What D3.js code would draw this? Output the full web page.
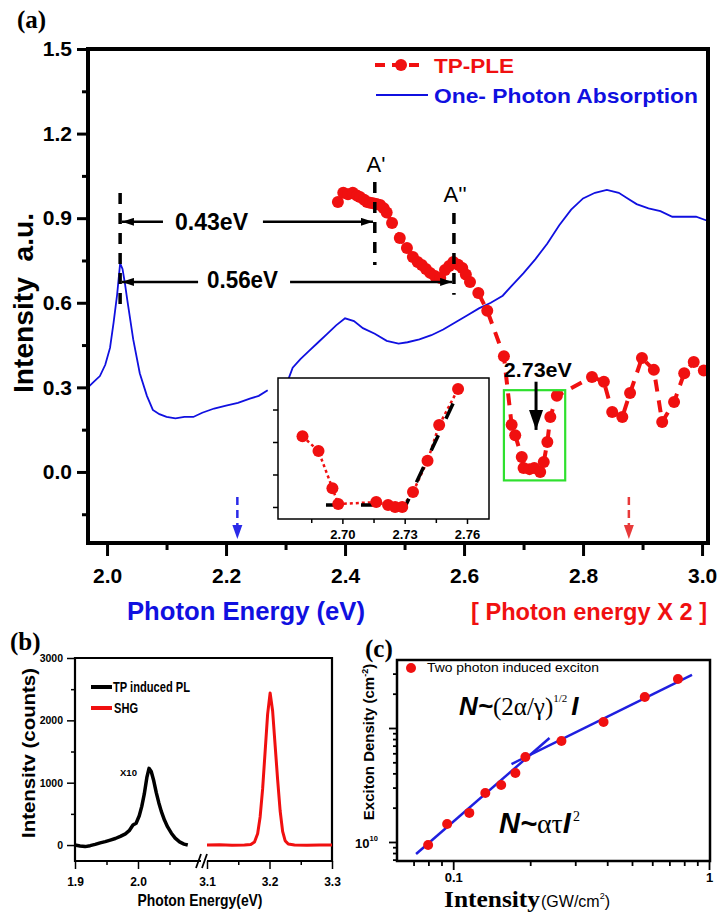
<!DOCTYPE html>
<html>
<head>
<meta charset="utf-8">
<script src="https://cdn.jsdelivr.net/npm/d3@7"></script>
<style>
  body { margin: 0; background: #fff; }
  svg { display: block; }
</style>
</head>
<body>
<script>
// ---------- (a) one-photon absorption (eV, a.u.), null = gap in trace
var absE = [1.968,1.978,1.988,1.997,2.005,2.011,2.017,2.022,2.026,2.030,2.034,2.044,2.055,2.067,2.077,2.088,2.100,2.115,2.130,2.145,2.160,2.180,2.200,2.220,2.240,2.255,2.270,2.287,
            2.305,2.312,2.325,2.340,2.355,2.370,2.385,2.400,2.415,2.430,2.450,2.470,2.490,2.505,2.525,2.545,2.565,2.585,2.605,2.625,2.645,2.665,2.680,2.700,2.720,2.740,2.760,2.780,2.800,2.820,2.840,2.860,2.875,2.890,2.910,2.930,2.950,2.970,2.990,3.010];
var absI = [0.30,0.32,0.34,0.38,0.44,0.53,0.63,0.74,0.72,0.67,0.61,0.47,0.35,0.27,0.22,0.205,0.195,0.19,0.195,0.195,0.21,0.225,0.235,0.245,0.26,0.27,0.29,null,
            0.33,0.37,0.40,0.43,0.46,0.49,0.52,0.545,0.535,0.51,0.49,0.465,0.455,0.46,0.47,0.485,0.505,0.53,0.555,0.58,0.60,0.625,0.66,0.705,0.755,0.81,0.875,0.93,0.97,0.99,1.0,0.99,0.97,0.95,0.935,0.925,0.905,0.905,0.905,0.89];

// ---------- (a) TP-PLE (photon energy x2, a.u.)
var pleE = [2.388,2.397,2.405,2.413,2.420,2.425,2.432,2.437,2.442,2.447,2.453,2.459,2.465,2.470,2.479,2.492,2.504,2.514,2.522,2.529,2.536,2.543,2.551,2.560,2.568,2.575,2.582,2.590,2.597,2.603,2.610,2.624,2.639,
            2.667,2.680,2.686,2.697,2.700,2.710,2.718,2.728,2.734,2.740,2.745,2.756,2.815,2.835,2.849,2.866,2.879,2.899,2.919,2.933,2.953,2.970,2.986,3.003];
var pleI = [0.957,0.99,0.985,0.99,0.98,0.975,0.965,0.957,0.955,0.953,0.95,0.947,0.935,0.92,0.883,0.83,0.794,0.762,0.745,0.734,0.72,0.706,0.695,0.688,0.716,0.73,0.745,0.735,0.723,0.70,0.674,0.635,0.572,
            0.41,0.167,0.13,0.053,0.014,0.01,0.014,0.0,0.035,0.106,0.195,0.27,0.337,0.32,0.213,0.195,0.28,0.404,0.362,0.177,0.248,0.35,0.39,0.36];

// ---------- (a) inset, zoom of the 2.73 eV dip
var insE = [2.6808,2.6885,2.6952,2.698,2.7163,2.722,2.7254,2.7288,2.734,2.741,2.7466,2.7557];
var insI = [2.18,1.72,0.58,0.09,0.15,0.06,0.0,0.0,0.46,1.42,2.52,3.63];
var insFitE = [2.6921,2.7306,2.7552];
var insFitI = [0.06,0.06,3.45];

// ---------- (b) spectra
var plE = [1.900,1.908,1.916,1.924,1.932,1.940,1.948,1.956,1.964,1.972,1.980,1.986,1.992,1.997,2.002,2.006,2.010,2.014,2.0175,2.021,2.025,2.029,2.033,2.037,2.042,2.047,2.053,2.059,2.066,2.073,2.079];
var plC = [0,-15,-25,-10,10,35,55,80,105,140,180,230,320,350,470,620,820,1080,1230,1180,1030,840,680,540,400,290,190,110,50,15,0];
var shgE = [3.100,3.120,3.140,3.160,3.170,3.176,3.181,3.185,3.189,3.193,3.197,3.201,3.205,3.209,3.213,3.217,3.221,3.225,3.230,3.240,3.260,3.280,3.300];
var shgC = [0,5,-5,0,10,50,180,450,900,1500,2100,2440,2150,1600,1050,550,220,70,15,0,-5,0,0];

// ---------- (c) exciton density vs intensity
var excI = [0.0798,0.0947,0.1156,0.1335,0.154,0.175,0.1915,0.265,0.387,0.561,0.756];
var excN = [9.4e9,1.44e10,1.8e10,2.69e10,3.16e10,4.03e10,5.57e10,7.7e10,1.13e11,1.87e11,2.69e11];
var fitLowI = [0.0716,0.238],  fitLowN = [7.85e9,8.17e10];
var fitHighI = [0.169,0.858],  fitHighN = [4.83e10,2.92e11];

// ---------- ticks
var aTicksX = [2.0,2.2,2.4,2.6,2.8,3.0], aMinorX = [2.1,2.3,2.5,2.7,2.9];
var aTicksY = [0,0.3,0.6,0.9,1.2,1.5], aMinorY = [-0.15,0.15,0.45,0.75,1.05,1.35];
var insTicksX = [2.70,2.73,2.76], insMinorX = [2.685,2.715,2.745], insTicksY = [0,1,2,3];
var bTicksY = [0,1000,2000,3000], bMinorY = [500,1500,2500];
var bTicksL = [1.9,2.0], bMinorL = [1.95,2.05], bTicksR = [3.1,3.2,3.3], bMinorR = [3.15,3.25];
var cTicksX = [0.1,1], cMinorX = [0.07,0.08,0.09,0.2,0.3,0.4,0.5,0.6,0.7,0.8,0.9];
var cTicksY = [1e10,1e11], cMinorY = [7e9,8e9,9e9,2e10,3e10,4e10,5e10,6e10,7e10,8e10,9e10,2e11,3e11];

var SANS = "'Liberation Sans', Arial, sans-serif",
    SERIF = "'Liberation Serif', 'Times New Roman', serif",
    RED = "#f01010", BLUE = "#1010e0";

var svg = d3.select("body").append("svg")
    .attr("width", 724).attr("height", 921)
    .attr("font-family", SANS);

var defs = svg.append("defs");
defs.append("marker").attr("id", "ah")
    .attr("viewBox", "0 0 12 8").attr("refX", 12).attr("refY", 4)
    .attr("markerWidth", 12).attr("markerHeight", 8)
    .attr("markerUnits", "userSpaceOnUse").attr("orient", "auto")
  .append("path").attr("d", "M0,0L12,4L0,8Z").attr("fill", "#000");

function label(g, x, y, s, o) {
  var t = g.append("text").attr("x", x).attr("y", y).text(s)
      .attr("font-size", o.size)
      .attr("font-weight", o.weight || "bold")
      .attr("fill", o.fill || "#000")
      .attr("text-anchor", o.anchor || "start");
  if (o.family) t.attr("font-family", o.family);
  if (o.style) t.attr("font-style", o.style);
  if (o.len) t.attr("textLength", o.len).attr("lengthAdjust", "spacingAndGlyphs");
  if (o.rotate) t.attr("transform", "rotate(-90," + x + "," + y + ")");
  return t;
}

function styleAxis(sel, w, size) {
  sel.select(".domain").remove();
  sel.selectAll(".tick line").attr("stroke", "#000").attr("stroke-width", w);
  sel.selectAll(".tick text").attr("fill", "#000").attr("font-family", SANS)
     .attr("font-weight", "bold").attr("font-size", size || 10);
}

function zip(a, b) { return a.map(function(d, i) { return [d, b[i]]; }); }

// =================== panel (a) ===================
var xA = d3.scaleLinear().domain([1.968, 3.010]).range([88, 708]);
var yA = d3.scaleLinear().domain([-0.252, 1.5]).range([543, 49]);
var gA = svg.append("g");

label(gA, 17, 28, "(a)", {size: 25, family: SERIF});

gA.append("g").attr("transform", "translate(0,543)")
  .call(d3.axisBottom(xA).tickValues(aMinorX).tickSize(7).tickFormat(""))
  .call(styleAxis, 3);
gA.append("g").attr("transform", "translate(0,543)")
  .call(d3.axisBottom(xA).tickValues(aTicksX).tickSize(13).tickPadding(12).tickFormat(d3.format(".1f")))
  .call(styleAxis, 3, 21);
gA.append("g").attr("transform", "translate(88,0)")
  .call(d3.axisLeft(yA).tickValues(aMinorY).tickSize(6).tickFormat(""))
  .call(styleAxis, 3);
gA.append("g").attr("transform", "translate(88,0)")
  .call(d3.axisLeft(yA).tickValues(aTicksY).tickSize(11).tickPadding(5).tickFormat(d3.format(".1f")))
  .call(styleAxis, 3, 21);

// one-photon absorption
var absLine = d3.line().defined(function(d) { return d[1] != null; })
    .x(function(d) { return xA(d[0]); }).y(function(d) { return yA(d[1]); });
gA.append("path").datum(zip(absE, absI)).attr("d", absLine)
  .attr("fill", "none").attr("stroke", BLUE).attr("stroke-width", 1.8);

// TP-PLE
var pleData = zip(pleE, pleI);
gA.append("path").datum(pleData).attr("d", absLine)
  .attr("fill", "none").attr("stroke", RED).attr("stroke-width", 4)
  .attr("stroke-dasharray", "12,9");
gA.selectAll(".ple").data(pleData).enter().append("circle")
  .attr("class", "ple").attr("r", 6)
  .attr("cx", function(d) { return xA(d[0]); })
  .attr("cy", function(d) { return yA(d[1]); })
  .attr("fill", RED);

// dashed markers at 2.02, A', A''
function vdash(x, y0, y1) {
  gA.append("line").attr("x1", xA(x)).attr("x2", xA(x)).attr("y1", yA(y0)).attr("y2", yA(y1))
    .attr("stroke", "#000").attr("stroke-width", 3.5).attr("stroke-dasharray", "11,9");
}
vdash(2.022, 0.989, 0.574);
vdash(2.450, 1.028, 0.734);
vdash(2.583, 0.918, 0.628);
label(gA, xA(2.452), 172, "A'", {size: 22, weight: "normal", anchor: "middle"});
label(gA, xA(2.585), 202, "A''", {size: 22, weight: "normal", anchor: "middle"});

function arrow(x0, x1, y) {
  gA.append("line").attr("x1", xA(x0)).attr("x2", xA(x1)).attr("y1", yA(y)).attr("y2", yA(y))
    .attr("stroke", "#000").attr("stroke-width", 2.5).attr("marker-end", "url(#ah)");
}
arrow(2.094, 2.025, 0.887);
arrow(2.262, 2.447, 0.887);
label(gA, xA(2.1756), 230, "0.43eV", {size: 23, anchor: "middle", len: 73});
arrow(2.153, 2.025, 0.674);
arrow(2.3076, 2.580, 0.674);
label(gA, xA(2.2277), 288, "0.56eV", {size: 23, anchor: "middle", len: 71});

// green box + 2.73 eV
gA.append("rect").attr("x", xA(2.667)).attr("y", yA(0.29))
  .attr("width", xA(2.770) - xA(2.667)).attr("height", yA(-0.03) - yA(0.29))
  .attr("fill", "none").attr("stroke", "#2ee02e").attr("stroke-width", 2.2);
label(gA, xA(2.724), 377, "2.73eV", {size: 21, anchor: "middle", len: 68});
gA.append("line").attr("x1", xA(2.721)).attr("x2", xA(2.721)).attr("y1", yA(0.32)).attr("y2", yA(0.149))
  .attr("stroke", "#000").attr("stroke-width", 3);
gA.append("path")
  .attr("d", "M" + (xA(2.721) - 7) + "," + yA(0.22) + "L" + xA(2.721) + "," + yA(0.149) + "L" + (xA(2.721) + 7) + "," + yA(0.22) + "Z")
  .attr("fill", "#000");

// small dashed arrows under the traces
function downArrow(x, col) {
  gA.append("line").attr("x1", xA(x)).attr("x2", xA(x)).attr("y1", 497).attr("y2", 526)
    .attr("stroke", col).attr("stroke-width", 2.5).attr("stroke-dasharray", "8,5");
  gA.append("path")
    .attr("d", "M" + (xA(x) - 5) + ",525L" + xA(x) + ",539L" + (xA(x) + 5) + ",525Z")
    .attr("fill", col);
}
downArrow(2.219, "#2a2ae8");
downArrow(2.877, "#e83a3a");

// inset
var xI = d3.scaleLinear().domain([2.669, 2.7706]).range([278, 489]);
var yI = d3.scaleLinear().domain([-0.37, 3.97]).range([519, 378]);
var gI = gA.append("g");
gI.append("rect").attr("x", 278).attr("y", 378).attr("width", 211).attr("height", 141)
  .attr("fill", "#fff").attr("stroke", "#000").attr("stroke-width", 1.5);
gI.append("g").attr("transform", "translate(0,519)")
  .call(d3.axisBottom(xI).tickValues(insMinorX).tickSize(4).tickFormat(""))
  .call(styleAxis, 1.5);
gI.append("g").attr("transform", "translate(0,519)")
  .call(d3.axisBottom(xI).tickValues(insTicksX).tickSize(5).tickPadding(6).tickFormat(d3.format(".2f")))
  .call(styleAxis, 1.5, 13);
gI.append("g").attr("transform", "translate(278,0)")
  .call(d3.axisLeft(yI).tickValues(insTicksY).tickSize(5).tickFormat(""))
  .call(styleAxis, 1.5);
var insLine = d3.line().x(function(d) { return xI(d[0]); }).y(function(d) { return yI(d[1]); });
gI.append("path").datum(zip(insE, insI)).attr("d", insLine)
  .attr("fill", "none").attr("stroke", RED).attr("stroke-width", 2.5).attr("stroke-dasharray", "3,3");
gI.append("path").datum(zip(insFitE, insFitI)).attr("d", insLine)
  .attr("fill", "none").attr("stroke", "#000").attr("stroke-width", 3.5).attr("stroke-dasharray", "17,18");
gI.selectAll(".ins").data(zip(insE, insI)).enter().append("circle")
  .attr("class", "ins").attr("r", 6)
  .attr("cx", function(d) { return xI(d[0]); })
  .attr("cy", function(d) { return yI(d[1]); })
  .attr("fill", RED);

// frame on top
gA.append("rect").attr("x", 88).attr("y", 49).attr("width", 620).attr("height", 494)
  .attr("fill", "none").attr("stroke", "#000").attr("stroke-width", 4);

// legend
gA.append("line").attr("x1", 375).attr("x2", 424).attr("y1", 65).attr("y2", 65)
  .attr("stroke", RED).attr("stroke-width", 4).attr("stroke-dasharray", "10,7");
gA.append("circle").attr("cx", 401).attr("cy", 65).attr("r", 6).attr("fill", RED);
label(gA, 434, 73, "TP-PLE", {size: 21, fill: RED, len: 80});
gA.append("line").attr("x1", 376).attr("x2", 428).attr("y1", 95).attr("y2", 95)
  .attr("stroke", BLUE).attr("stroke-width", 2);
label(gA, 434, 103, "One- Photon Absorption", {size: 21, fill: BLUE, len: 264});

// axis titles
var yt = label(gA, 33, 303, "Intensity", {size: 28, anchor: "middle", rotate: true, len: 180});
yt.append("tspan").text("\u00a0\u00a0a.u.");
label(gA, 246, 620, "Photon Energy (eV)", {size: 25, fill: BLUE, anchor: "middle", len: 238});
label(gA, 589, 620, "[ Photon energy X 2 ]", {size: 23, fill: RED, anchor: "middle", len: 236});

// =================== panel (b) ===================
var gB = svg.append("g");
var xBL = d3.scaleLinear().domain([1.9, 2.1]).range([75, 201]);
var xBR = d3.scaleLinear().domain([3.1, 3.3]).range([207, 332]);
var yB = d3.scaleLinear().domain([-256, 3000]).range([861, 658]);

label(gB, 10, 650, "(b)", {size: 25, family: SERIF});

gB.append("g").attr("transform", "translate(75,0)")
  .call(d3.axisLeft(yB).tickValues(bMinorY).tickSize(4).tickFormat(""))
  .call(styleAxis, 1.5);
gB.append("g").attr("transform", "translate(75,0)")
  .call(d3.axisLeft(yB).tickValues(bTicksY).tickSize(8).tickPadding(4).tickFormat(d3.format("d")))
  .call(styleAxis, 1.5, 10.5);
[[xBL, bTicksL, bMinorL], [xBR, bTicksR, bMinorR]].forEach(function(p) {
  gB.append("g").attr("transform", "translate(0,861)")
    .call(d3.axisBottom(p[0]).tickValues(p[2]).tickSize(4).tickFormat(""))
    .call(styleAxis, 1.5);
  gB.append("g").attr("transform", "translate(0,861)")
    .call(d3.axisBottom(p[0]).tickValues(p[1]).tickSize(8).tickPadding(8).tickFormat(d3.format(".1f")))
    .call(styleAxis, 1.5, 12);
});
// frame with broken bottom axis
gB.append("path").attr("d", "M201,861H75V658H332V861H207")
  .attr("fill", "none").attr("stroke", "#000").attr("stroke-width", 2.2);
gB.append("path").attr("d", "M196,868L201,854M202,868L207,854")
  .attr("fill", "none").attr("stroke", "#000").attr("stroke-width", 1.8);

var lineBL = d3.line().x(function(d) { return xBL(d[0]); }).y(function(d) { return yB(d[1]); });
var lineBR = d3.line().x(function(d) { return xBR(d[0]); }).y(function(d) { return yB(d[1]); });
gB.append("path").datum(zip(plE, plC)).attr("d", lineBL)
  .attr("fill", "none").attr("stroke", "#000").attr("stroke-width", 3.5).attr("stroke-linejoin", "round");
gB.append("path").datum(zip(shgE, shgC)).attr("d", lineBR)
  .attr("fill", "none").attr("stroke", RED).attr("stroke-width", 3).attr("stroke-linejoin", "round");

label(gB, 120, 776, "X10", {size: 9.5, len: 17});
gB.append("line").attr("x1", 91).attr("x2", 112).attr("y1", 687).attr("y2", 687)
  .attr("stroke", "#000").attr("stroke-width", 4);
label(gB, 113, 692, "TP induced PL", {size: 14, len: 77});
gB.append("line").attr("x1", 91).attr("x2", 112).attr("y1", 708).attr("y2", 708)
  .attr("stroke", RED).attr("stroke-width", 4);
label(gB, 114, 713, "SHG", {size: 14, len: 24});

label(gB, 35, 753, "Intensitv (counts)", {size: 18, anchor: "middle", rotate: true, len: 170});
label(gB, 200, 906, "Photon Energy(eV)", {size: 17, anchor: "middle", len: 125});

// =================== panel (c) ===================
var gC = svg.append("g");
var xC = d3.scaleLog().domain([0.0603, 1.009]).range([397, 710]);
var yC = d3.scaleLog().domain([6.81e9, 3.95e11]).range([861, 660]);

label(gC, 365, 657, "(c)", {size: 25, family: SERIF});

gC.append("g").attr("transform", "translate(0,861)")
  .call(d3.axisBottom(xC).tickValues(cMinorX).tickSize(5).tickFormat(""))
  .call(styleAxis, 1.8);
gC.append("g").attr("transform", "translate(0,861)")
  .call(d3.axisBottom(xC).tickValues(cTicksX).tickSize(9).tickPadding(3).tickFormat(function(d) { return d === 1 ? "1" : "0.1"; }))
  .call(styleAxis, 1.8, 13);
gC.append("g").attr("transform", "translate(397,0)")
  .call(d3.axisLeft(yC).tickValues(cMinorY).tickSize(4).tickFormat(""))
  .call(styleAxis, 1.8);
gC.append("g").attr("transform", "translate(397,0)")
  .call(d3.axisLeft(yC).tickValues(cTicksY).tickSize(8).tickFormat(""))
  .call(styleAxis, 1.8);
gC.append("rect").attr("x", 397).attr("y", 660).attr("width", 313).attr("height", 201)
  .attr("fill", "none").attr("stroke", "#000").attr("stroke-width", 2.5);

var t10 = label(gC, 355, 848, "10", {size: 13});
t10.append("tspan").attr("font-size", 7.5).attr("dy", -7).text("10");

var lineC = d3.line().x(function(d) { return xC(d[0]); }).y(function(d) { return yC(d[1]); });
[[fitLowI, fitLowN], [fitHighI, fitHighN]].forEach(function(f) {
  gC.append("path").datum(zip(f[0], f[1])).attr("d", lineC)
    .attr("fill", "none").attr("stroke", "#1f1fdf").attr("stroke-width", 2.5);
});
gC.selectAll(".exc").data(zip(excI, excN)).enter().append("circle")
  .attr("class", "exc").attr("r", 5)
  .attr("cx", function(d) { return xC(d[0]); })
  .attr("cy", function(d) { return yC(d[1]); })
  .attr("fill", RED);

gC.append("circle").attr("cx", 411).attr("cy", 668).attr("r", 5).attr("fill", RED);
label(gC, 427, 672, "Two photon induced exciton", {size: 13, weight: "normal", len: 172});

var f1 = gC.append("text").attr("x", 459).attr("y", 715).attr("font-size", 26);
f1.append("tspan").attr("font-weight", "bold").attr("font-style", "italic").text("N~");
f1.append("tspan").attr("font-family", SERIF).attr("font-size", 25).text("(2\u03b1/\u03b3)");
f1.append("tspan").attr("font-family", SERIF).attr("font-size", 11).attr("dy", -13).text("1/2");
f1.append("tspan").attr("dy", 13).attr("dx", 4).attr("font-weight", "bold").attr("font-style", "italic").text("I");

var f2 = gC.append("text").attr("x", 499).attr("y", 833).attr("font-size", 29);
f2.append("tspan").attr("font-weight", "bold").attr("font-style", "italic").text("N~");
f2.append("tspan").attr("font-family", SERIF).attr("font-size", 28).text("\u03b1\u03c4");
f2.append("tspan").attr("font-weight", "bold").attr("font-style", "italic").text("I");
f2.append("tspan").attr("font-family", SERIF).attr("font-size", 14).attr("dy", -12).attr("dx", 2).text("2");

var yc = label(gC, 374, 742, "Exciton Density (cm", {size: 15, anchor: "middle", rotate: true});
yc.append("tspan").attr("font-size", 9).attr("dy", -6).text("-2");
yc.append("tspan").attr("dy", 6).text(")");

label(gC, 444, 907, "Intensity", {size: 24, family: SERIF, len: 96});
var xu = label(gC, 541, 907, "(GW/cm", {size: 16, weight: "normal"});
xu.append("tspan").attr("font-size", 9).attr("dy", -8).text("2");
xu.append("tspan").attr("dy", 8).text(")");
</script>
</body>
</html>
